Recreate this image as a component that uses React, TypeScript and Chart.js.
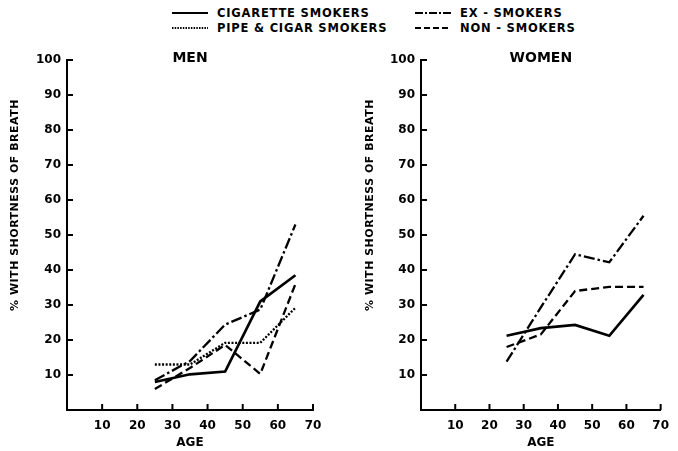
import React, { useEffect, useRef } from 'react';
import { Chart, registerables } from 'chart.js';

Chart.register(...registerables);

// ---- data ----
const AGES = [25, 35, 45, 55, 65];
const X_TICKS = [10, 20, 30, 40, 50, 60, 70];
const Y_TICKS = [10, 20, 30, 40, 50, 60, 70, 80, 90, 100];

const MEN_CIGARETTE = [8, 10.2, 11, 31, 38.5];
const MEN_EX = [8.5, 14, 24.4, 28.7, 53];
const MEN_PIPE = [13, 13, 19.2, 19.2, 29.2];
const MEN_NON = [6, 12, 18.6, 10.3, 36];

const WOMEN_CIGARETTE = [21.2, 23.4, 24.3, 21.2, 32.9];
const WOMEN_EX = [13.8, 29.3, 44.5, 42.2, 55.5];
const WOMEN_NON = [18, 21.6, 34, 35.2, 35.2];

const LABEL_CIG = 'CIGARETTE SMOKERS';
const LABEL_PIPE = 'PIPE & CIGAR SMOKERS';
const LABEL_EX = 'EX - SMOKERS';
const LABEL_NON = 'NON - SMOKERS';
const Y_TITLE = '% WITH SHORTNESS OF BREATH';
const X_TITLE = 'AGE';

const FONT = '"DejaVu Sans", "Liberation Sans", sans-serif';

const STYLES: Record<string, { dash: number[]; width: number }> = {
  cig: { dash: [], width: 2.7 },
  ex: { dash: [11, 3, 2.5, 3], width: 2.3 },
  pipe: { dash: [2, 1.6], width: 2.3 },
  non: { dash: [8, 4], width: 2.3 },
};

const toPoints = (vals: number[]) => AGES.map((a, i) => ({ x: a, y: vals[i] }));

const mkDataset = (label: string, vals: number[], key: string) => ({
  label,
  data: toPoints(vals),
  borderColor: '#000',
  borderWidth: STYLES[key].width,
  borderDash: STYLES[key].dash,
  pointRadius: 0,
  tension: 0,
  fill: false,
});

const decorPlugin = {
  id: 'panelDecor',
  afterDraw(chart: any, _args: any, opts: any) {
    const ctx = chart.ctx;
    const area = chart.chartArea;
    const xs = chart.scales.x;
    const ys = chart.scales.y;
    ctx.save();
    ctx.strokeStyle = '#000';
    ctx.lineWidth = 2;
    ctx.beginPath();
    xs.ticks.forEach((t: any) => {
      const px = xs.getPixelForValue(t.value);
      ctx.moveTo(px, area.bottom);
      ctx.lineTo(px, area.bottom - 6);
    });
    ys.ticks.forEach((t: any) => {
      const py = ys.getPixelForValue(t.value);
      ctx.moveTo(area.left, py);
      ctx.lineTo(area.left + 6, py);
    });
    ctx.stroke();

    ctx.fillStyle = '#000';
    ctx.textAlign = 'center';
    ctx.textBaseline = 'middle';
    ctx.font = `bold 14px ${FONT}`;
    ctx.fillText(opts.title, (area.left + area.right) / 2, opts.titleY);

    ctx.translate(opts.yTitleX, opts.yTitleY);
    ctx.rotate(-Math.PI / 2);
    ctx.font = `bold 11px ${FONT}`;
    (ctx as any).letterSpacing = '0.5px';
    ctx.fillText(opts.yTitle, 0, 0);
    ctx.restore();
  },
};

function makeConfig(datasets: any[], title: string, yWidth: number, padRight: number) {
  return {
    type: 'line',
    data: { datasets },
    plugins: [decorPlugin],
    options: {
      animation: false,
      responsive: false,
      layout: { padding: { top: 60, left: 0, right: padRight, bottom: 0 } },
      plugins: {
        legend: { display: false },
        tooltip: { enabled: false },
        panelDecor: { title, titleY: 58, yTitle: Y_TITLE, yTitleX: 15, yTitleY: 205 },
      },
      scales: {
        x: {
          type: 'linear',
          min: 0,
          max: 70,
          afterBuildTicks: (s: any) => {
            s.ticks = X_TICKS.map((v) => ({ value: v }));
          },
          afterFit: (s: any) => {
            s.height = 41;
          },
          grid: { display: false, drawTicks: false },
          border: { display: true, color: '#000', width: 2 },
          ticks: {
            color: '#000',
            padding: 9,
            maxRotation: 0,
            autoSkip: false,
            font: { family: FONT, weight: 'bold', size: 12 },
          },
          title: {
            display: true,
            text: X_TITLE,
            color: '#000',
            font: { family: FONT, weight: 'bold', size: 12 },
            padding: { top: 0, bottom: 1 },
          },
        },
        y: {
          type: 'linear',
          min: 0,
          max: 100,
          afterBuildTicks: (s: any) => {
            s.ticks = Y_TICKS.map((v) => ({ value: v }));
          },
          afterFit: (s: any) => {
            s.width = yWidth;
          },
          grid: { display: false, drawTicks: false },
          border: { display: true, color: '#000', width: 2 },
          ticks: {
            color: '#000',
            padding: 6,
            autoSkip: false,
            font: { family: FONT, weight: 'bold', size: 12 },
          },
        },
      },
    },
  };
}

function Panel(props: { left: number; width: number; config: any }) {
  const ref = useRef<HTMLCanvasElement | null>(null);
  useEffect(() => {
    if (!ref.current) return;
    const chart = new Chart(ref.current, props.config);
    return () => chart.destroy();
  }, []);
  return (
    <canvas
      ref={ref}
      width={props.width}
      height={451}
      style={{ position: 'absolute', left: props.left, top: 0, width: props.width, height: 451 }}
    />
  );
}

function LegendItem(props: { x: number; y: number; dash: number[]; label: string; width: number }) {
  const textStyle: React.CSSProperties = {
    position: 'absolute',
    left: props.x + 45,
    top: props.y - 8,
    font: `bold 11.5px ${FONT}`,
    letterSpacing: '0.8px',
    lineHeight: '16px',
    whiteSpace: 'nowrap',
    color: '#000',
  };
  return (
    <>
      <svg
        width={40}
        height={6}
        style={{ position: 'absolute', left: props.x, top: props.y - 3 }}
      >
        <line
          x1={0}
          y1={3}
          x2={36}
          y2={3}
          stroke="#000"
          strokeWidth={props.width}
          strokeDasharray={props.dash.length ? props.dash.join(' ') : undefined}
        />
      </svg>
      <div style={textStyle}>{props.label}</div>
    </>
  );
}

export default function App() {
  const menConfig = makeConfig(
    [
      mkDataset(LABEL_CIG, MEN_CIGARETTE, 'cig'),
      mkDataset(LABEL_EX, MEN_EX, 'ex'),
      mkDataset(LABEL_PIPE, MEN_PIPE, 'pipe'),
      mkDataset(LABEL_NON, MEN_NON, 'non'),
    ],
    'MEN',
    67,
    26
  );
  const womenConfig = makeConfig(
    [
      mkDataset(LABEL_CIG, WOMEN_CIGARETTE, 'cig'),
      mkDataset(LABEL_EX, WOMEN_EX, 'ex'),
      mkDataset(LABEL_NON, WOMEN_NON, 'non'),
    ],
    'WOMEN',
    66,
    9
  );
  return (
    <div
      style={{
        position: 'absolute',
        left: 0,
        top: 0,
        width: 678,
        height: 451,
        background: '#fff',
        overflow: 'hidden',
      }}
    >
      <LegendItem x={172} y={13} dash={[]} width={2} label={LABEL_CIG} />
      <LegendItem x={172} y={28} dash={[1.5, 1.2]} width={2} label={LABEL_PIPE} />
      <LegendItem x={415} y={13} dash={[8, 2, 2, 2]} width={2} label={LABEL_EX} />
      <LegendItem x={415} y={28} dash={[6, 3]} width={2} label={LABEL_NON} />
      <Panel left={0} width={339} config={menConfig} />
      <Panel left={355} width={323} config={womenConfig} />
    </div>
  );
}
